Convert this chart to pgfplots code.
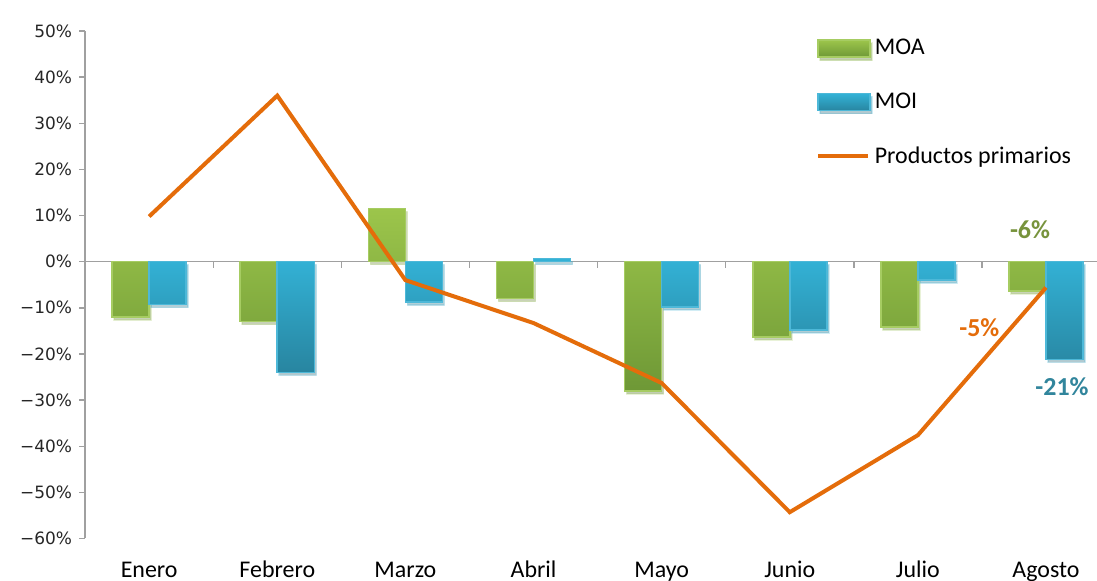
\documentclass[border=0pt]{standalone}
\usepackage{pgfplots}
\pgfplotsset{compat=1.18}
\usepackage{fontspec}
\setmainfont{Carlito}
\newfontfamily\dejavu{DejaVu Sans}
\usetikzlibrary{shadows}

\definecolor{moatop}{HTML}{9CC54B}
\definecolor{moabot}{HTML}{6E9836}
\definecolor{moaedge}{HTML}{A6CC62}
\definecolor{moitop}{HTML}{33B2D6}
\definecolor{moibot}{HTML}{2885A0}
\definecolor{moiedge}{HTML}{4DB8D8}
\definecolor{prim}{HTML}{E46C0A}
\definecolor{axgray}{HTML}{A0A0A0}
\definecolor{lblgreen}{HTML}{77933C}
\definecolor{lblblue}{HTML}{31859C}

\begin{document}
\begin{tikzpicture}
\begin{axis}[
  scale only axis,
  width=505.5bp, height=253.5bp,
  xmin=-0.5, xmax=7.398,
  ymin=-60, ymax=50,
  axis y line=left, axis x line=bottom,
  x axis line style={draw=none},
  y axis line style={draw=axgray, line width=0.7bp, -},
  xtick={0,...,7},
  xticklabels={Enero,Febrero,Marzo,Abril,Mayo,Junio,Julio,Agosto},
  x tick style={draw=none},
  xticklabel style={font=\fontsize{12}{14}\selectfont, anchor=base, yshift=-16.5bp},
  ytick={-60,-50,...,50},
  yticklabels={−60\%,−50\%,−40\%,−30\%,−20\%,−10\%,0\%,10\%,20\%,30\%,40\%,50\%},
  yticklabel style={font=\dejavu\fontsize{8.5}{10}\selectfont, text=black!85},
  y tick style={draw=axgray, line width=0.7bp},
  tick align=outside, major tick length=3bp,
  clip=false,
  legend style={draw=none, fill=none,
    at={(axis description cs:0.716,1.0)}, anchor=north west,
    font=\fontsize{12}{14}\selectfont, row sep=13.5bp,
    cells={anchor=west}},
]
\draw[axgray, line width=0.8bp] (axis cs:-0.5,0) -- (axis cs:7.398,0);
\pgfplotsinvokeforeach{0.5,1.5,2.5,3.5,4.5,5.5,6.5}{
  \draw[axgray, line width=0.7bp] (axis cs:#1,0) -- ++(0pt,-3bp);
}

\addplot[ybar, bar width=18.5bp, bar shift=-9.25bp,
  top color=moatop, bottom color=moabot, draw=moaedge, line width=0.8bp,
  drop shadow={shadow xshift=1bp, shadow yshift=-1.5bp, opacity=0.25},
  legend image code/.code={\fill[top color=moatop, bottom color=moabot, draw=moaedge]
    (0bp,-4.25bp) rectangle (26bp,4.25bp);}]
  coordinates {(0,-12) (1,-13) (2,11.5) (3,-8) (4,-28) (5,-16.3) (6,-14.2) (7,-6.3)};
\addlegendentry{MOA}

\addplot[ybar, bar width=18.5bp, bar shift=9.25bp,
  top color=moitop, bottom color=moibot, draw=moiedge, line width=0.8bp,
  drop shadow={shadow xshift=1bp, shadow yshift=-1.5bp, opacity=0.25},
  legend image code/.code={\fill[top color=moitop, bottom color=moibot, draw=moiedge]
    (0bp,-4.25bp) rectangle (26bp,4.25bp);}]
  coordinates {(0,-9.3) (1,-24) (2,-8.8) (3,0.7) (4,-9.8) (5,-14.8) (6,-4) (7,-21.2)};
\addlegendentry{MOI}

\addplot[prim, line width=2bp, mark=none,
  legend image code/.code={\draw[prim, line width=2bp] (0bp,0bp) -- (25bp,0bp);}]
  coordinates {(0,9.8) (1,36) (2,-4) (3,-13.3) (4,-26.3) (5,-54.3) (6,-37.6) (7,-5.6)};
\addlegendentry{Productos primarios}

\node[font=\bfseries\fontsize{13}{15}\selectfont, text=lblgreen] at (axis cs:6.875,7) {-6\%};
\node[font=\bfseries\fontsize{13}{15}\selectfont, text=prim] at (axis cs:6.48,-14.3) {-5\%};
\node[font=\bfseries\fontsize{13}{15}\selectfont, text=lblblue] at (axis cs:7.125,-27) {-21\%};
\end{axis}
\pgfresetboundingbox
\path ([shift={(-42.5bp,-21bp)}]current axis.south west) rectangle ([shift={(0bp,15.5bp)}]current axis.north east);
\end{tikzpicture}
\end{document}
